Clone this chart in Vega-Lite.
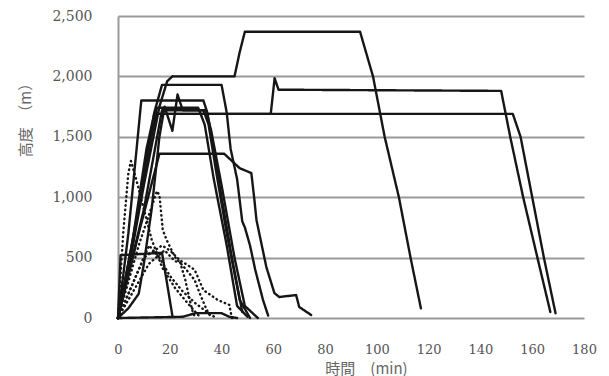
{
  "$schema": "https://vega.github.io/schema/vega-lite/v6.json",
  "width": 466,
  "height": 302,
  "autosize": {"type": "none"},
  "padding": {"left": 118, "top": 16, "right": 25, "bottom": 58},
  "background": "white",
  "config": {"view": {"stroke": null}},
  "datasets": {
    "flights": [
      {"id": "S1", "kind": "solid", "t": 0, "h": 0},
      {"id": "S1", "kind": "solid", "t": 4, "h": 400},
      {"id": "S1", "kind": "solid", "t": 10, "h": 1100},
      {"id": "S1", "kind": "solid", "t": 16, "h": 1750},
      {"id": "S1", "kind": "solid", "t": 19, "h": 1960},
      {"id": "S1", "kind": "solid", "t": 21, "h": 2000},
      {"id": "S1", "kind": "solid", "t": 45, "h": 2000},
      {"id": "S1", "kind": "solid", "t": 47, "h": 2200},
      {"id": "S1", "kind": "solid", "t": 49, "h": 2370},
      {"id": "S1", "kind": "solid", "t": 93.5, "h": 2370},
      {"id": "S1", "kind": "solid", "t": 98.5, "h": 2000},
      {"id": "S1", "kind": "solid", "t": 103, "h": 1500},
      {"id": "S1", "kind": "solid", "t": 108.5, "h": 1000},
      {"id": "S1", "kind": "solid", "t": 113, "h": 500},
      {"id": "S1", "kind": "solid", "t": 117, "h": 80},

      {"id": "S2", "kind": "solid", "t": 0, "h": 0},
      {"id": "S2", "kind": "solid", "t": 5, "h": 550},
      {"id": "S2", "kind": "solid", "t": 11, "h": 1400},
      {"id": "S2", "kind": "solid", "t": 14, "h": 1690},
      {"id": "S2", "kind": "solid", "t": 59, "h": 1690},
      {"id": "S2", "kind": "solid", "t": 60.5, "h": 1985},
      {"id": "S2", "kind": "solid", "t": 62, "h": 1890},
      {"id": "S2", "kind": "solid", "t": 148, "h": 1880},
      {"id": "S2", "kind": "solid", "t": 151.5, "h": 1500},
      {"id": "S2", "kind": "solid", "t": 156.5, "h": 1000},
      {"id": "S2", "kind": "solid", "t": 162, "h": 500},
      {"id": "S2", "kind": "solid", "t": 167, "h": 50},

      {"id": "S3", "kind": "solid", "t": 0, "h": 0},
      {"id": "S3", "kind": "solid", "t": 6, "h": 650},
      {"id": "S3", "kind": "solid", "t": 12, "h": 1450},
      {"id": "S3", "kind": "solid", "t": 15, "h": 1690},
      {"id": "S3", "kind": "solid", "t": 152.5, "h": 1690},
      {"id": "S3", "kind": "solid", "t": 155.5, "h": 1500},
      {"id": "S3", "kind": "solid", "t": 160, "h": 1000},
      {"id": "S3", "kind": "solid", "t": 164.5, "h": 500},
      {"id": "S3", "kind": "solid", "t": 169, "h": 40},

      {"id": "S4", "kind": "solid", "t": 0, "h": 0},
      {"id": "S4", "kind": "solid", "t": 8, "h": 900},
      {"id": "S4", "kind": "solid", "t": 14, "h": 1700},
      {"id": "S4", "kind": "solid", "t": 17, "h": 1930},
      {"id": "S4", "kind": "solid", "t": 40, "h": 1930},
      {"id": "S4", "kind": "solid", "t": 42, "h": 1700},
      {"id": "S4", "kind": "solid", "t": 43.5, "h": 1400},
      {"id": "S4", "kind": "solid", "t": 46, "h": 1150},
      {"id": "S4", "kind": "solid", "t": 48, "h": 800},
      {"id": "S4", "kind": "solid", "t": 49, "h": 750},
      {"id": "S4", "kind": "solid", "t": 51, "h": 600},
      {"id": "S4", "kind": "solid", "t": 53, "h": 400},
      {"id": "S4", "kind": "solid", "t": 56, "h": 150},
      {"id": "S4", "kind": "solid", "t": 58, "h": 20},

      {"id": "S5", "kind": "solid", "t": 0, "h": 0},
      {"id": "S5", "kind": "solid", "t": 8, "h": 700},
      {"id": "S5", "kind": "solid", "t": 16, "h": 1360},
      {"id": "S5", "kind": "solid", "t": 41, "h": 1360},
      {"id": "S5", "kind": "solid", "t": 47, "h": 1240},
      {"id": "S5", "kind": "solid", "t": 51.5, "h": 1200},
      {"id": "S5", "kind": "solid", "t": 52.7, "h": 976},
      {"id": "S5", "kind": "solid", "t": 53.5, "h": 810},
      {"id": "S5", "kind": "solid", "t": 57.3, "h": 422},
      {"id": "S5", "kind": "solid", "t": 60.4, "h": 207},
      {"id": "S5", "kind": "solid", "t": 62.3, "h": 174},
      {"id": "S5", "kind": "solid", "t": 68.8, "h": 190},
      {"id": "S5", "kind": "solid", "t": 70, "h": 91},
      {"id": "S5", "kind": "solid", "t": 74.6, "h": 25},

      {"id": "S6", "kind": "solid", "t": 0, "h": 0},
      {"id": "S6", "kind": "solid", "t": 4, "h": 700},
      {"id": "S6", "kind": "solid", "t": 9, "h": 1800},
      {"id": "S6", "kind": "solid", "t": 33, "h": 1800},
      {"id": "S6", "kind": "solid", "t": 34.5, "h": 1700},
      {"id": "S6", "kind": "solid", "t": 37, "h": 1400},
      {"id": "S6", "kind": "solid", "t": 40, "h": 1000},
      {"id": "S6", "kind": "solid", "t": 44, "h": 500},
      {"id": "S6", "kind": "solid", "t": 48, "h": 50},

      {"id": "S7", "kind": "solid", "t": 0, "h": 0},
      {"id": "S7", "kind": "solid", "t": 7, "h": 800},
      {"id": "S7", "kind": "solid", "t": 15, "h": 1740},
      {"id": "S7", "kind": "solid", "t": 31, "h": 1740},
      {"id": "S7", "kind": "solid", "t": 33.5, "h": 1600},
      {"id": "S7", "kind": "solid", "t": 37, "h": 1150},
      {"id": "S7", "kind": "solid", "t": 42, "h": 600},
      {"id": "S7", "kind": "solid", "t": 46, "h": 100},
      {"id": "S7", "kind": "solid", "t": 50, "h": 10},

      {"id": "S8", "kind": "solid", "t": 0, "h": 0},
      {"id": "S8", "kind": "solid", "t": 4, "h": 80},
      {"id": "S8", "kind": "solid", "t": 8, "h": 200},
      {"id": "S8", "kind": "solid", "t": 10, "h": 450},
      {"id": "S8", "kind": "solid", "t": 13, "h": 900},
      {"id": "S8", "kind": "solid", "t": 16, "h": 1500},
      {"id": "S8", "kind": "solid", "t": 18, "h": 1750},
      {"id": "S8", "kind": "solid", "t": 21, "h": 1550},
      {"id": "S8", "kind": "solid", "t": 23, "h": 1850},
      {"id": "S8", "kind": "solid", "t": 25, "h": 1720},
      {"id": "S8", "kind": "solid", "t": 33, "h": 1720},
      {"id": "S8", "kind": "solid", "t": 35, "h": 1600},
      {"id": "S8", "kind": "solid", "t": 38, "h": 1200},
      {"id": "S8", "kind": "solid", "t": 42, "h": 700},
      {"id": "S8", "kind": "solid", "t": 47, "h": 150},
      {"id": "S8", "kind": "solid", "t": 51, "h": 0},

      {"id": "S9", "kind": "solid", "t": 0, "h": 0},
      {"id": "S9", "kind": "solid", "t": 10, "h": 900},
      {"id": "S9", "kind": "solid", "t": 17, "h": 1720},
      {"id": "S9", "kind": "solid", "t": 34, "h": 1720},
      {"id": "S9", "kind": "solid", "t": 36, "h": 1550},
      {"id": "S9", "kind": "solid", "t": 40, "h": 1100},
      {"id": "S9", "kind": "solid", "t": 45, "h": 500},
      {"id": "S9", "kind": "solid", "t": 49, "h": 100},
      {"id": "S9", "kind": "solid", "t": 54, "h": 0},

      {"id": "S10", "kind": "solid", "t": 0, "h": 0},
      {"id": "S10", "kind": "solid", "t": 1, "h": 520},
      {"id": "S10", "kind": "solid", "t": 17, "h": 540},
      {"id": "S10", "kind": "solid", "t": 21, "h": 20},

      {"id": "S11", "kind": "solid", "t": 0, "h": 0},
      {"id": "S11", "kind": "solid", "t": 25, "h": 10},
      {"id": "S11", "kind": "solid", "t": 30, "h": 40},
      {"id": "S11", "kind": "solid", "t": 40, "h": 40},
      {"id": "S11", "kind": "solid", "t": 43, "h": 10},
      {"id": "S11", "kind": "solid", "t": 46, "h": 0},

      {"id": "D1", "kind": "dotted", "t": 0, "h": 0},
      {"id": "D1", "kind": "dotted", "t": 2, "h": 700},
      {"id": "D1", "kind": "dotted", "t": 4, "h": 1200},
      {"id": "D1", "kind": "dotted", "t": 5, "h": 1300},
      {"id": "D1", "kind": "dotted", "t": 7, "h": 1150},
      {"id": "D1", "kind": "dotted", "t": 10, "h": 900},
      {"id": "D1", "kind": "dotted", "t": 13, "h": 650},
      {"id": "D1", "kind": "dotted", "t": 17, "h": 420},
      {"id": "D1", "kind": "dotted", "t": 22, "h": 250},
      {"id": "D1", "kind": "dotted", "t": 27, "h": 120},
      {"id": "D1", "kind": "dotted", "t": 32, "h": 0},

      {"id": "D2", "kind": "dotted", "t": 0, "h": 0},
      {"id": "D2", "kind": "dotted", "t": 8, "h": 600},
      {"id": "D2", "kind": "dotted", "t": 15, "h": 1050},
      {"id": "D2", "kind": "dotted", "t": 16, "h": 1018},
      {"id": "D2", "kind": "dotted", "t": 17.3, "h": 728},
      {"id": "D2", "kind": "dotted", "t": 18.8, "h": 646},
      {"id": "D2", "kind": "dotted", "t": 22, "h": 505},
      {"id": "D2", "kind": "dotted", "t": 26.5, "h": 397},
      {"id": "D2", "kind": "dotted", "t": 29.6, "h": 315},
      {"id": "D2", "kind": "dotted", "t": 31.5, "h": 207},
      {"id": "D2", "kind": "dotted", "t": 34, "h": 80},
      {"id": "D2", "kind": "dotted", "t": 36, "h": 0},

      {"id": "D3", "kind": "dotted", "t": 0, "h": 0},
      {"id": "D3", "kind": "dotted", "t": 10, "h": 500},
      {"id": "D3", "kind": "dotted", "t": 17, "h": 600},
      {"id": "D3", "kind": "dotted", "t": 20, "h": 560},
      {"id": "D3", "kind": "dotted", "t": 23.8, "h": 480},
      {"id": "D3", "kind": "dotted", "t": 29.6, "h": 400},
      {"id": "D3", "kind": "dotted", "t": 33, "h": 230},
      {"id": "D3", "kind": "dotted", "t": 38.5, "h": 150},
      {"id": "D3", "kind": "dotted", "t": 43, "h": 108},
      {"id": "D3", "kind": "dotted", "t": 44, "h": 0},

      {"id": "D4", "kind": "dotted", "t": 0, "h": 0},
      {"id": "D4", "kind": "dotted", "t": 12, "h": 450},
      {"id": "D4", "kind": "dotted", "t": 18, "h": 560},
      {"id": "D4", "kind": "dotted", "t": 22, "h": 470},
      {"id": "D4", "kind": "dotted", "t": 24, "h": 460},
      {"id": "D4", "kind": "dotted", "t": 26, "h": 315},
      {"id": "D4", "kind": "dotted", "t": 27.7, "h": 150},
      {"id": "D4", "kind": "dotted", "t": 29, "h": 40},
      {"id": "D4", "kind": "dotted", "t": 30, "h": 0},

      {"id": "D5", "kind": "dotted", "t": 0, "h": 0},
      {"id": "D5", "kind": "dotted", "t": 6, "h": 300},
      {"id": "D5", "kind": "dotted", "t": 12, "h": 600},
      {"id": "D5", "kind": "dotted", "t": 16, "h": 500},
      {"id": "D5", "kind": "dotted", "t": 20, "h": 350},
      {"id": "D5", "kind": "dotted", "t": 25, "h": 220},
      {"id": "D5", "kind": "dotted", "t": 30, "h": 120},
      {"id": "D5", "kind": "dotted", "t": 35, "h": 40},
      {"id": "D5", "kind": "dotted", "t": 38, "h": 0}
    ]
  },
  "data": {"name": "flights"},
  "mark": {"type": "line", "color": "#161616", "strokeWidth": 2.4, "strokeCap": "round", "strokeJoin": "round"},
  "encoding": {
    "x": {
      "field": "t", "type": "quantitative",
      "scale": {"domain": [0, 180], "nice": false},
      "axis": {
        "values": [0, 20, 40, 60, 80, 100, 120, 140, 160, 180],
        "grid": false, "domain": false, "ticks": false, "labelFlush": false, "labelOverlap": false,
        "labelPadding": 25, "labelFont": "DejaVu Serif", "labelFontSize": 13, "labelColor": "#555",
        "title": "時間　(min)", "titleFont": "Noto Sans CJK JP", "titleFontWeight": "normal",
        "titleFontSize": 15, "titleColor": "#666", "titleX": 248, "titleY": 55,
        "titleBaseline": "alphabetic", "titleAlign": "center"
      }
    },
    "y": {
      "field": "h", "type": "quantitative",
      "scale": {"domain": [0, 2500], "nice": false},
      "axis": {
        "values": [0, 500, 1000, 1500, 2000, 2500], "format": ",d",
        "grid": true, "gridColor": "#9a9a9a", "gridWidth": 2,
        "domain": true, "domainColor": "#9a9a9a", "domainWidth": 2,
        "ticks": false, "labelPadding": 26,
        "labelFont": "DejaVu Serif", "labelFontSize": 14, "labelColor": "#555",
        "title": "高度　（m）", "titleFont": "Noto Sans CJK JP", "titleFontWeight": "normal",
        "titleFontSize": 15, "titleColor": "#666", "titleX": -85, "titleY": 100
      }
    },
    "detail": {"field": "id", "type": "nominal"},
    "strokeDash": {
      "field": "kind", "type": "nominal",
      "scale": {"domain": ["solid", "dotted"], "range": [[1, 0], [0.5, 4]]},
      "legend": null
    }
  }
}
